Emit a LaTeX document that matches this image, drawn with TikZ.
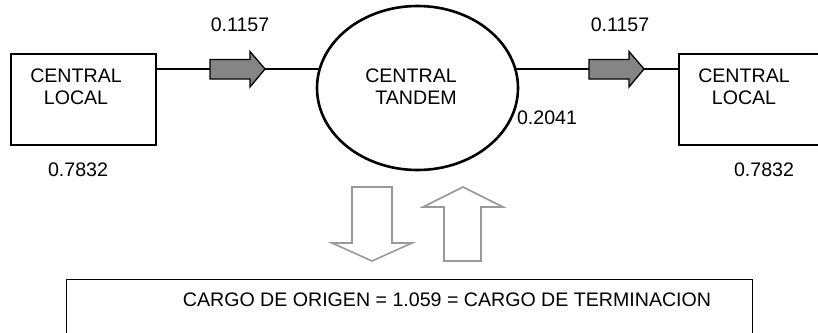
\documentclass[tikz,border=0pt]{standalone}
\usepackage{fontspec}
\setmainfont{Liberation Sans}
\usetikzlibrary{shapes.geometric,calc}
\begin{document}
\begin{tikzpicture}[x=1pt,y=-1pt,
  lbl/.style={inner sep=0pt, font=\fontsize{19.6}{22}\selectfont, align=center},
  boxshape/.style={draw, line width=1.3pt, inner sep=0pt},
  conn/.style={line width=1.1pt},
  flowarrow/.style={draw, line width=1.3pt, fill=black!48, line join=miter},
  hollowarrow/.style={draw=black!40, line width=1.6pt, line join=miter}]
\useasboundingbox (0,0) rectangle (818,332);
\clip (0,0) rectangle (818,332);
% boxes
\node[boxshape, minimum width=145, minimum height=91] (lbox) at (83.5,99.5) {};
\node[boxshape, minimum width=160, minimum height=91] (rbox) at (759,99.5) {};
\node[ellipse, draw, line width=2.6pt, inner sep=0pt, outer sep=0pt, minimum width=201, minimum height=164] (tandem) at (417.5,88) {};
% texts
\node[lbl] (ltxt) at (76,87) {CENTRAL\\LOCAL};
\node[lbl] (rtxt) at (744,87) {CENTRAL\\LOCAL};
\node[lbl] (ttxt) at (411,87) {CENTRAL\\\hspace*{10pt}TANDEM};
\node[lbl] (v1) at (240,25) {0.1157};
\node[lbl] (v2) at (620,25) {0.1157};
\node[lbl] (v3) at (78,170) {0.7832};
\node[lbl] (v4) at (764,170) {0.7832};
\node[lbl] (v5) at (547,118) {0.2041};
% flow arrows
\coordinate (a1) at (210,69);
\coordinate (a1t) at (265,69);
\coordinate (a2) at (589,69);
\coordinate (a2t) at (644,69);
\draw[flowarrow] (a1) ++(0,-9.5) -- ++(40,0) -- ++(0,-8) -- (a1t) -- ++(-15,18) -- ++(0,-8) -- ++(-40,0) -- cycle;
\draw[flowarrow] (a2) ++(0,-9.5) -- ++(40,0) -- ++(0,-8) -- (a2t) -- ++(-15,18) -- ++(0,-8) -- ++(-40,0) -- cycle;
% connectors
\coordinate (tl) at ($(tandem.center)+(-98,-19)$);
\coordinate (tr) at ($(tandem.center)+(98,-19)$);
\draw[conn] (lbox.east |- a1) -- (a1);
\draw[conn] (a1t) -- (tl);
\draw[conn] (tr) -- (a2);
\draw[conn] (a2t) -- (rbox.west |- a2t);
% hollow arrows
\coordinate (dn) at (372,261);
\coordinate (up) at (463,187);
\draw[hollowarrow] (352,187) -- (392,187) -- (392,243) -- (412,243) -- (dn) -- (332,243) -- (352,243) -- cycle;
\draw[hollowarrow] (444,261) -- (481,261) -- (481,207) -- (503,207) -- (up) -- (423,207) -- (444,207) -- cycle;
% bottom box
\node[boxshape, line width=1.4pt, minimum width=686, minimum height=80, anchor=north west] (cargo) at (66,279) {};
\node[lbl] (ctxt) at (447,300) {CARGO DE ORIGEN = 1.059 = CARGO DE TERMINACION};
\end{tikzpicture}
\end{document}
